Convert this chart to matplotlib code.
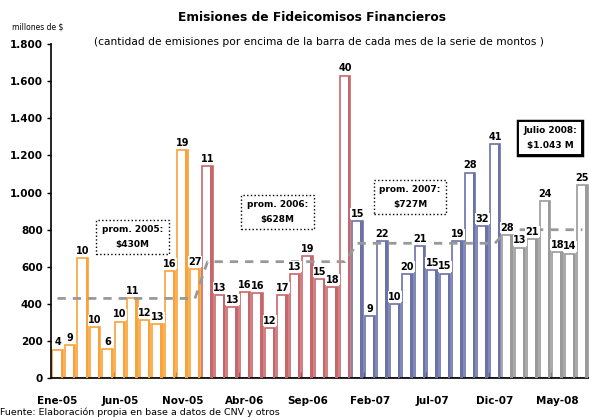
import matplotlib
matplotlib.use("Agg")
import matplotlib.pyplot as plt
import numpy as np

plt.rcParams['font.family'] = ['DejaVu Sans']

# montos mensuales (millones de $), ene-05 a jul-08
montos_2005 = [155, 177, 646, 274, 156, 305, 430, 315, 290, 579, 1230, 589]
montos_2006 = [1144, 449, 383, 465, 458, 270, 449, 562, 659, 534, 492, 1630]
montos_2007 = [846, 333, 737, 399, 563, 710, 584, 564, 737, 1107, 821, 1261]
montos_2008 = [773, 704, 749, 954, 679, 671, 1040]

cant_2005 = [4, 9, 10, 10, 6, 10, 11, 12, 13, 16, 19, 27]
cant_2006 = [11, 13, 13, 16, 16, 12, 17, 13, 19, 15, 18, 40]
cant_2007 = [15, 9, 22, 10, 20, 21, 15, 15, 19, 28, 32, 41]
cant_2008 = [28, 13, 21, 24, 18, 14, 25]

promedios = [430, 628, 727, 800]
colores = ["#F9A33A", "#C8676B", "#6B72A8", "#9A9A9A"]

meses = ["Ene", "Feb", "Mar", "Abr", "May", "Jun", "Jul", "Ago", "Sep", "Oct", "Nov", "Dic"]
etiquetas = []
for anio, n in [("05", 12), ("06", 12), ("07", 12), ("08", 7)]:
    etiquetas += [f"{m}-{anio}" for m in meses[:n]]

montos_series = [montos_2005, montos_2006, montos_2007, montos_2008]
cant_series = [cant_2005, cant_2006, cant_2007, cant_2008]

fig = plt.figure(figsize=(5.89, 4.17), dpi=100)
ax = fig.add_axes([0.0866, 0.0928, 0.915, 0.8017])

ancho = 0.84
inicio = 0
linea_x, linea_y = [], []
for montos, cants, color, prom in zip(montos_series, cant_series, colores, promedios):
    x = np.arange(inicio, inicio + len(montos))
    ax.bar(x, montos, width=ancho, color="white", edgecolor=color, linewidth=1.2, zorder=2)
    # lado derecho grueso del "cilindro"
    ax.bar(x + ancho / 2 - 0.09, montos, width=0.18, color=color, linewidth=0, zorder=3)
    for xi, m, c in zip(x, montos, cants):
        ax.text(xi, m + 12, str(c), ha="center", va="bottom", fontsize=7, fontweight="bold",
                bbox=dict(boxstyle="square,pad=0.05", fc="white", ec="none"), zorder=5)
    linea_x += list(x)
    linea_y += [prom] * len(montos)
    inicio += len(montos)

ax.plot(linea_x, linea_y, color="#999999", lw=2, ls=(0, (3, 2.5)), zorder=4)

ax.set_xlim(-0.52, 42.6)
ax.set_ylim(0, 1800)
ax.set_yticks(range(0, 1801, 200))
ax.set_yticklabels([f"{v:,}".replace(",", ".") for v in range(0, 1801, 200)],
                   fontsize=7.5, fontweight="bold")
pos = list(range(0, len(etiquetas), 5))
ax.set_xticks(pos)
ax.set_xticklabels([etiquetas[p] for p in pos], fontsize=7.5, fontweight="bold")
ax.tick_params(axis="x", length=0, pad=13)
ax.set_xticks([p - 0.5 for p in pos[1:]], minor=True)
ax.tick_params(axis="x", which="minor", direction="in", length=4, width=1)
ax.tick_params(axis="y", direction="out", length=3, width=1, pad=3)
for s in ["top", "right"]:
    ax.spines[s].set_visible(False)
ax.spines["left"].set_linewidth(1.2)
ax.spines["bottom"].set_linewidth(1.2)

cajas = [(6.0, 762, "prom. 2005:\n$430M"), (17.6, 894, "prom. 2006:\n$628M"),
         (28.2, 977, "prom. 2007:\n$727M")]
for xc, yc, txt in cajas:
    ax.text(xc, yc, txt, ha="center", va="center", fontsize=6.5, fontweight="bold",
            linespacing=1.8, zorder=6,
            bbox=dict(boxstyle="square,pad=0.6", fc="white", ec="black", ls=":", lw=1))
ax.text(39.4, 1293, "Julio 2008:\n$1.043 M", ha="center", va="center", fontsize=6.5,
        fontweight="bold", linespacing=1.8, zorder=6,
        bbox=dict(boxstyle="square,pad=0.55", fc="white", ec="black", lw=2.5))
ax.text(39.4, 1293, "Julio 2008:\n$1.043 M", ha="center", va="center", fontsize=6.5,
        fontweight="bold", linespacing=1.8, zorder=7,
        bbox=dict(boxstyle="square,pad=0.35", fc="white", ec="white", lw=1.5))

fig.text(0.53, 0.957, "Emisiones de Fideicomisos Financieros", ha="center", va="center",
         fontsize=8.8, fontweight="bold")
fig.text(0.542, 0.899, "(cantidad de emisiones por encima de la barra de cada mes de la serie de montos )",
         ha="center", va="center", fontsize=7.7)
fig.text(0.02, 0.935, "millones de $", ha="left", va="center", fontsize=5.5)
fig.text(0.0, 0.012, "Fuente: Elaboración propia en base a datos de CNV y otros", ha="left",
         va="center", fontsize=6.8)

fig.savefig("out.png", dpi=100)
